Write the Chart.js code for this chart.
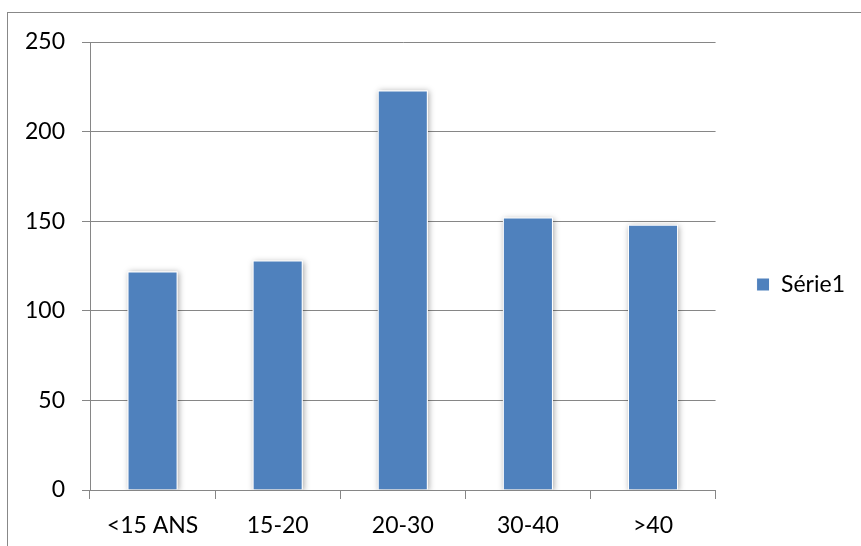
<!DOCTYPE html>
<html>
<head>
<meta charset="utf-8">
<script src="https://cdn.jsdelivr.net/npm/chart.js@4.4.1/dist/chart.umd.min.js"></script>
<style>
  html, body { margin: 0; padding: 0; background: #fff; overflow: hidden; }
  .wrap { position: relative; width: 861px; height: 546px; }
  .frame { position: absolute; left: 7px; top: 12px; width: 900px; height: 600px; border: 1px solid #888; }
  canvas { position: absolute; left: 0; top: 0; }
</style>
</head>
<body>
<div class="wrap">
  <div class="frame"></div>
  <canvas id="chart" width="861" height="546"></canvas>
</div>
<script>
const categories = ['<15 ANS', '15-20', '20-30', '30-40', '>40']
const serie1 = [122, 128, 223, 152, 148]
const yTicks = [0, 50, 100, 150, 200, 250]

const FONT = { family: 'Lato, "Open Sans", sans-serif', size: 23 }
const GRID = '#868686'

// soft shadow under each bar, drawn before the bars themselves
const barShadow = {
  id: 'barShadow',
  beforeDatasetsDraw(chart) {
    const { ctx, chartArea } = chart
    ctx.save()
    ctx.beginPath()
    ctx.rect(chartArea.left, chartArea.top - 10, chartArea.width, chartArea.height + 10)
    ctx.clip()
    chart.getDatasetMeta(0).data.forEach((bar) => {
      const { x, y, base, width } = bar.getProps(['x', 'y', 'base', 'width'], true)
      ctx.save()
      ctx.shadowColor = 'rgba(0, 0, 0, 0.35)'
      ctx.shadowBlur = 6
      ctx.shadowOffsetX = 1
      ctx.shadowOffsetY = 1
      ctx.fillStyle = '#fff'
      ctx.fillRect(x - width / 2, y, width, base - y)
      ctx.restore()
    })
    ctx.restore()
  },
}

new Chart(document.getElementById('chart'), {
  type: 'bar',
  data: {
    labels: categories,
    datasets: [
      {
        label: 'Série1',
        data: serie1,
        backgroundColor: '#4F81BD',
        borderColor: '#ffffff',
        borderWidth: 1,
        borderSkipped: 'bottom',
        categoryPercentage: 1,
        barPercentage: 0.4,
      },
    ],
  },
  plugins: [barShadow],
  options: {
    responsive: false,
    animation: false,
    layout: {
      padding: { top: 42, right: 6, bottom: 0, left: 0 },
    },
    plugins: {
      tooltip: { enabled: false },
      legend: {
        position: 'right',
        fullSize: false,
        // empty title only pushes the single entry a bit below the middle
        title: { display: true, text: ' ', padding: { top: 25, bottom: 0 }, font: { size: 10 } },
        labels: {
          boxWidth: 13,
          boxHeight: 13,
          padding: 41,
          color: '#000',
          font: FONT,
        },
      },
    },
    scales: {
      x: {
        afterFit: (scale) => { scale.height = 56 },
        grid: {
          drawOnChartArea: false,
          tickLength: 9,
          color: GRID,
        },
        border: { color: GRID },
        ticks: { color: '#000', font: FONT, padding: 13, maxRotation: 0 },
      },
      y: {
        min: 0,
        max: 250,
        afterFit: (scale) => { scale.width = 90 },
        afterBuildTicks: (scale) => { scale.ticks = yTicks.map((v) => ({ value: v })) },
        grid: { tickLength: 8, color: GRID },
        border: { color: GRID },
        ticks: { color: '#000', font: FONT, padding: 17 },
      },
    },
  },
})
</script>
</body>
</html>
